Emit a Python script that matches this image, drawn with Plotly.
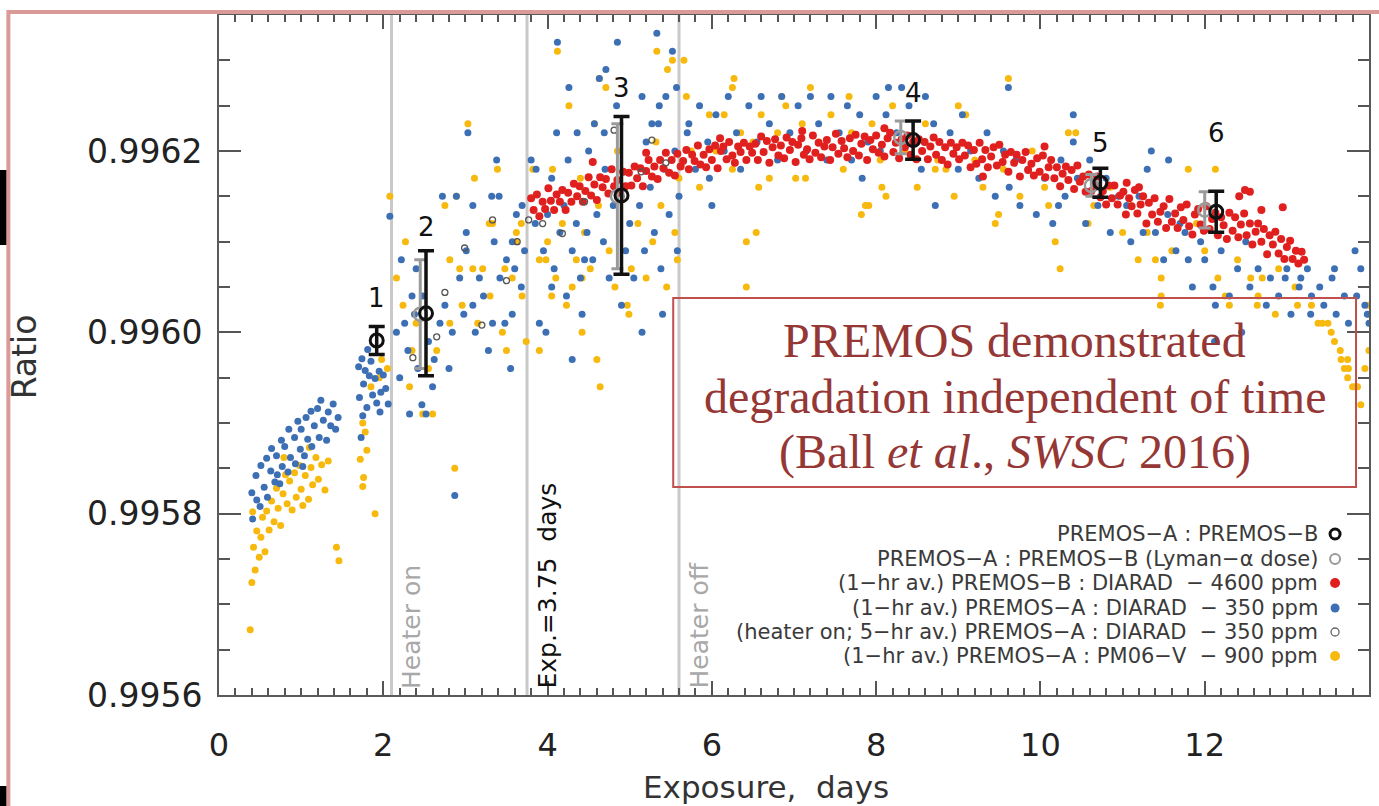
import plotly.graph_objects as go

# ---------------- data ----------------
blue_pts = [
    (0.40,0.995823),(0.41,0.995794),(0.45,0.995842),(0.46,0.995815),(0.50,0.995808),(0.51,0.995853),(0.55,0.995829),
    (0.58,0.995861),(0.59,0.995818),(0.63,0.995847),(0.64,0.995872),(0.68,0.995835),(0.70,0.995864),(0.71,0.995843),
    (0.76,0.995881),(0.77,0.995852),(0.80,0.995874),(0.84,0.995846),(0.85,0.995893),(0.87,0.995862),(0.92,0.995884),
    (0.93,0.995855),(0.96,0.995902),(0.99,0.995871),(1.00,0.995893),(1.04,0.995864),(1.06,0.995906),(1.08,0.995882),
    (1.12,0.995913),(1.13,0.995874),(1.16,0.995897),(1.20,0.995916),(1.22,0.995884),(1.24,0.995925),(1.27,0.995903),
    (1.31,0.995881),(1.33,0.995912),(1.36,0.995897),(1.39,0.995921),(1.42,0.995893),(1.45,0.995906),(0.74,0.995833),
    (1.02,0.995852),
    (1.70,0.995962),(1.71,0.995928),(1.74,0.995971),(1.76,0.995943),(1.78,0.995958),(1.80,0.995917),(1.83,0.995952),
    (1.85,0.995968),(1.87,0.995931),(1.90,0.995949),(1.92,0.995922),(1.95,0.995957),(1.97,0.995934),(2.00,0.995953),
    (2.03,0.995938),(2.06,0.995921),(1.75,0.995908),(1.96,0.995912),(1.73,0.995884),(2.08,0.996128),(1.81,0.995981),
    (2.22,0.99608),(2.35,0.99604),(2.26,0.99601),(2.38,0.99602),(2.48,0.99604),(2.47,0.99592),(2.32,0.99591),(2.60,0.99594),
    (2.69,0.99601),(2.84,0.99600),(2.93,0.99606),(3.01,0.99609),(3.17,0.99606),(3.09,0.99603),(3.33,0.99601),(3.48,0.99601),
    (3.57,0.99602),(3.68,0.99605),(3.50,0.99608),(3.57,0.99610),(3.69,0.99614),(3.90,0.99601),(2.87,0.99582),(2.72,0.99615),
    (2.89,0.99615),(3.09,0.99614),(3.01,0.99611),(3.35,0.99610),(3.03,0.99622),(3.38,0.99619),(3.41,0.99615),(3.32,0.99615),
    (3.62,0.99613),(3.80,0.99619),(3.86,0.99618),(2.30,0.99598),(2.42,0.99596),(2.55,0.99599),(2.62,0.99597),(2.75,0.99603),
    (2.80,0.99596),(2.98,0.99602),(3.12,0.99600),(3.22,0.99604),(3.28,0.99598),(3.42,0.99606),(3.60,0.99607),(3.72,0.99609),
    (2.20,0.99595),(2.52,0.99591),(3.55,0.99596),(2.16,0.99600),(2.40,0.99607),
    (4.12,0.99632),(4.26,0.99627),(4.36,0.99622),(4.57,0.99623),(4.63,0.99628),(4.71,0.99629),(4.85,0.99632),(4.84,0.99625),
    (5.33,0.99633),(5.52,0.99631),(5.57,0.99627),(5.72,0.99623),(4.11,0.99622),(4.05,0.99605),(4.23,0.99604),(4.45,0.99608),
    (4.42,0.99602),(5.58,0.99609),(5.15,0.99626),(5.27,0.99623),(5.36,0.99625),(5.44,0.99626),(4.69,0.99622),
    (3.85,0.99612),(3.95,0.99609),(4.00,0.99613),(4.08,0.99607),(4.15,0.99611),(4.20,0.99614),(4.30,0.99609),(4.35,0.99612),
    (4.40,0.99606),(4.48,0.99611),(4.55,0.99608),(4.60,0.99613),(4.68,0.99610),(4.75,0.99606),(4.80,0.99614),(4.95,0.99609),
    (5.00,0.99612),(5.05,0.99606),(5.12,0.99614),(5.18,0.99609),(5.25,0.99616),(5.30,0.99611),(5.38,0.99607),(5.42,0.99618),
    (5.48,0.99613),(5.55,0.99620),(5.60,0.99615),(4.05,0.99617),(4.25,0.99619),(4.50,0.99620),(4.70,0.99618),(5.20,0.99621),
    (5.35,0.99623),(4.90,0.99603),(5.15,0.99600),(5.40,0.99602),(3.98,0.99600),(4.30,0.99597),
    (5.70,0.99622),(5.80,0.99618),(5.85,0.99625),(5.95,0.99621),(5.97,0.99617),(6.00,0.99614),(6.05,0.99624),(6.15,0.99620),
    (6.20,0.99626),(6.30,0.99622),(6.35,0.99618),(6.45,0.99625),(6.55,0.99621),(6.60,0.99626),(6.70,0.99623),(6.80,0.99619),
    (6.85,0.99626),(6.95,0.99622),(7.05,0.99625),(7.15,0.99620),(7.20,0.99626),(7.30,0.99623),(7.40,0.99619),(7.45,0.99626),
    (7.55,0.99622),(7.65,0.99625),(7.70,0.99619),(7.80,0.99624),(7.83,0.99617),(7.90,0.99621),(8.00,0.99626),(8.05,0.99620),
    (8.12,0.99624),(8.15,0.99627),(8.25,0.99622),(8.31,0.99627),(8.40,0.99625),(8.50,0.99621),(8.55,0.99618),(8.60,0.99626),
    (8.70,0.99623),(8.80,0.99619),(8.90,0.99622),(9.00,0.99618),(8.72,0.99614),
    (9.05,0.99624),(9.15,0.99620),(9.25,0.99617),(9.35,0.99622),(9.45,0.99615),(9.55,0.99620),(9.61,0.99627),(9.62,0.99616),
    (9.70,0.99619),(9.75,0.99614),(9.85,0.99618),(9.95,0.99613),(10.05,0.99617),(10.15,0.99612),(10.22,0.99614),(10.25,0.99619),
    (10.30,0.99615),(10.40,0.99621),(10.45,0.99617),(10.55,0.99612),(10.60,0.99619),(10.70,0.99614),(10.80,0.99617),(10.85,0.99611),
    (10.95,0.99615),(10.40,0.99624),
    (11.05,0.99614),(11.10,0.99610),(11.20,0.99615),(11.25,0.99611),(11.30,0.99618),(11.35,0.99620),(11.40,0.99611),(11.50,0.99608),
    (11.55,0.99613),(11.56,0.99619),(11.65,0.99609),(11.70,0.99612),(11.76,0.99611),(11.80,0.99608),(11.85,0.99605),(11.95,0.99610),
    (12.00,0.99608),(12.10,0.99605),(12.13,0.99603),(12.20,0.99609),(12.30,0.99604),(12.40,0.99607),(12.50,0.99610),(12.55,0.99605),
    (12.65,0.99607),(12.75,0.99603),(12.80,0.99606),(12.90,0.99604),(12.98,0.99606),(13.00,0.99607),(13.05,0.99602),(13.15,0.99605),
    (13.17,0.99606),(13.25,0.99607),(13.29,0.99602),(13.30,0.99604),(13.40,0.99605),(13.45,0.99603),(13.55,0.99606),(13.58,0.99607),
    (13.60,0.99602),(13.70,0.99604),(13.75,0.99601),(13.83,0.99609),(13.85,0.99604),(13.90,0.99607),(13.95,0.99603),(14.00,0.99601),
    (13.98,0.99602),(12.45,0.99600),(12.12,0.99599),
]

yellow_pts = [
    (0.38,0.995672),(0.40,0.995724),(0.42,0.995763),(0.44,0.995738),(0.46,0.995781),(0.49,0.995752),(0.51,0.995774),
    (0.53,0.995796),(0.56,0.995758),(0.58,0.995803),(0.61,0.995782),(0.64,0.995814),(0.67,0.995791),(0.70,0.995828),
    (0.72,0.995806),(0.75,0.995787),(0.78,0.995822),(0.81,0.995843),(0.83,0.995811),(0.86,0.995836),(0.89,0.995804),
    (0.92,0.995845),(0.94,0.995818),(0.98,0.995853),(1.00,0.995827),(1.02,0.995809),(1.05,0.995842),(1.09,0.995816),
    (1.12,0.995851),(1.14,0.995832),(1.18,0.995862),(1.21,0.995838),(1.25,0.995854),(1.29,0.995826),(1.33,0.995858),
    (1.43,0.995763),(1.46,0.995748),(0.41,0.995802),(0.79,0.995862),(1.10,0.995873),
    (1.72,0.99586),(1.75,0.99590),(1.78,0.99589),(1.80,0.99587),(1.76,0.99584),(1.75,0.99583),(1.90,0.99580),(1.85,0.99594),
    (1.95,0.99595),(2.05,0.99596),(2.08,0.99615),(1.98,0.99597),
    (2.16,0.99606),(2.24,0.99603),(2.35,0.99598),(2.32,0.99594),(2.48,0.99591),(2.60,0.99591),(2.65,0.99598),(2.81,0.99601),
    (2.81,0.99608),(2.93,0.99607),(2.96,0.99603),(3.09,0.99607),(3.21,0.99607),(3.45,0.99600),(3.50,0.99598),(3.57,0.99606),
    (3.48,0.99607),(3.62,0.99610),(3.69,0.99604),(3.74,0.99599),(3.90,0.99598),(2.75,0.99614),(3.29,0.99612),(2.87,0.99585),
    (3.03,0.99623),(3.39,0.99618),(3.11,0.99617),(2.89,0.99615),(3.33,0.99612),(3.68,0.99612),(3.62,0.99611),(3.82,0.99618),
    (2.27,0.99610),(2.40,0.99601),(2.55,0.99596),(3.15,0.99601),(3.30,0.99604),
    (4.06,0.99618),(4.12,0.99631),(4.26,0.99625),(4.57,0.99623),(4.63,0.99628),(4.71,0.99627),(5.33,0.99631),(5.52,0.99630),
    (5.66,0.99630),(5.46,0.99629),(5.69,0.99626),(4.05,0.99604),(4.23,0.99603),(4.35,0.99608),(3.90,0.99608),(3.98,0.99608),
    (4.42,0.99600),(4.97,0.99603),(4.99,0.99602),(5.58,0.99608),(4.42,0.99606),
    (4.00,0.99610),(4.10,0.99606),(4.18,0.99612),(4.30,0.99605),(4.45,0.99611),(4.52,0.99607),(4.62,0.99614),(4.75,0.99609),
    (4.82,0.99605),(5.02,0.99607),(5.10,0.99612),(5.20,0.99606),(5.28,0.99610),(5.38,0.99614),(5.45,0.99605),(5.55,0.99611),
    (5.60,0.99617),(4.40,0.99617),(4.85,0.99620),(5.32,0.99621),(4.60,0.99597),(4.64,0.99594),
    (5.75,0.99620),(5.85,0.99616),(5.97,0.99624),(6.05,0.99620),(6.15,0.99624),(6.25,0.99627),(6.27,0.99628),(6.25,0.99618),
    (6.35,0.99622),(6.42,0.99610),(6.42,0.99605),(6.50,0.99621),(6.54,0.99611),(6.57,0.99616),(6.60,0.99624),(6.70,0.99617),
    (6.80,0.99622),(6.85,0.99626),(6.90,0.99625),(7.02,0.99617),(7.10,0.99623),(7.14,0.99617),(7.20,0.99627),(7.30,0.99621),
    (7.45,0.99624),(7.60,0.99618),(7.67,0.99626),(7.70,0.99622),(7.82,0.99613),(7.87,0.99614),(7.91,0.99614),(7.95,0.99623),
    (8.05,0.99619),(8.07,0.99616),(8.12,0.99615),(8.20,0.99625),(8.35,0.99620),(8.50,0.99616),(8.60,0.99623),(8.72,0.99618),
    (8.75,0.99619),(8.85,0.99618),(8.95,0.99615),
    (9.00,0.99625),(9.09,0.99624),(9.20,0.99619),(9.30,0.99616),(9.45,0.99612),(9.49,0.99613),(9.55,0.99618),(9.61,0.99628),
    (9.75,0.99615),(9.90,0.99620),(10.05,0.99616),(10.10,0.99614),(10.18,0.99610),(10.24,0.99607),(10.34,0.99622),(10.43,0.99622),
    (10.50,0.99617),(10.58,0.99612),(10.65,0.99614),(10.85,0.99616),(11.00,0.99611),
    (11.10,0.99614),(11.19,0.99608),(11.30,0.99611),(11.40,0.99608),(11.47,0.99606),(11.47,0.99604),(11.46,0.99603),(11.60,0.99609),
    (11.80,0.99618),(11.90,0.99612),(12.00,0.99609),(12.13,0.99618),(12.16,0.99606),(12.25,0.99604),(12.30,0.99603),(12.40,0.99608),
    (12.56,0.99606),(12.64,0.99603),(12.65,0.99604),(12.70,0.99606),(12.86,0.99602),(12.90,0.99607),(13.10,0.99605),(13.13,0.99603),
    (13.30,0.99603),(13.38,0.99601),(13.43,0.99601),(13.50,0.99601),(13.54,0.99600),(13.58,0.99599),(13.65,0.99598),(13.66,0.99597),
    (13.70,0.99596),(13.74,0.99597),(13.74,0.99595),(13.75,0.99596),(13.80,0.99594),(13.83,0.99594),(13.86,0.99594),(13.90,0.99592),
    (13.95,0.99596),(13.99,0.99603),(14.00,0.99598),
]

red_x = [
    3.80,3.83,3.87,3.90,3.94,3.97,4.01,4.04,4.08,4.11,4.15,4.18,4.22,4.25,4.29,4.32,4.36,4.39,4.43,4.46,
    4.50,4.53,4.57,4.60,4.64,4.67,4.71,4.74,4.78,4.81,4.85,4.88,4.92,4.95,4.99,
    5.02,5.06,5.09,5.13,5.16,5.20,5.23,5.27,5.30,5.34,5.37,5.41,5.44,5.48,5.51,5.55,5.58,5.62,5.65,5.69,
    5.72,5.76,5.79,5.83,5.86,5.90,5.93,5.97,6.00,6.04,6.07,6.11,6.14,6.18,6.21,6.25,6.28,6.32,6.35,6.39,
    6.42,6.46,6.49,
    6.53,6.56,6.60,6.63,6.67,6.70,6.74,6.77,6.81,6.84,6.88,6.91,6.95,6.98,7.02,7.05,7.09,7.12,7.16,7.19,
    7.23,7.26,7.30,7.33,7.37,7.40,7.44,7.47,7.51,7.54,7.58,7.61,7.65,7.68,7.72,7.75,7.79,7.82,7.86,7.89,
    7.93,7.96,8.00,8.03,8.07,8.10,8.14,8.17,8.21,8.24,8.28,8.31,8.35,8.38,8.42,8.45,8.49,8.52,8.56,8.59,
    8.63,8.66,8.70,8.73,8.77,8.80,8.84,8.87,8.91,8.94,8.98,
    9.01,9.05,9.08,9.12,9.15,9.19,9.22,9.26,9.29,9.33,9.36,9.40,9.43,9.47,9.50,9.54,9.57,9.61,9.64,9.68,
    9.71,9.75,9.78,9.82,9.85,9.89,9.92,9.96,9.99,10.03,10.06,10.10,10.13,10.17,10.20,10.24,10.27,10.31,10.34,10.38,
    10.41,10.45,10.48,10.52,10.55,10.59,10.62,10.66,10.69,10.73,10.76,10.80,10.83,10.87,10.90,10.94,10.97,
    11.01,11.04,11.08,11.11,11.15,11.18,11.22,11.25,11.29,11.32,11.36,11.39,11.43,11.46,11.50,11.53,11.57,11.60,11.64,11.67,
    11.71,11.74,11.78,11.81,11.85,11.88,11.92,11.95,11.99,12.02,12.06,12.09,12.13,12.16,12.20,12.23,12.27,12.30,12.34,12.37,
    12.41,12.44,12.48,12.51,12.55,12.58,12.62,12.65,12.69,12.72,12.76,12.79,12.83,12.86,12.90,12.93,12.97,13.00,13.04,13.07,
    13.11,13.14,13.18,13.21,
    12.49,12.55,12.42,11.05,11.20,9.30,10.05,5.20,4.55,8.10,7.10,6.10,12.95,12.69,
]
red_y = [
    0.996148,0.996135,0.996152,0.996128,0.996144,0.996136,0.996159,0.996145,0.996135,0.996152,
    0.996144,0.996157,0.996135,0.996154,0.996144,0.996164,0.996150,0.996161,0.996144,0.996156,
    0.996171,0.996151,0.996163,0.996146,0.996171,0.996160,0.996169,0.996153,0.996180,0.996161,
    0.996168,0.996154,0.996177,0.996161,0.996176,
    0.996162,0.996183,0.996170,0.996181,0.996161,0.996178,0.996190,0.996172,0.996183,0.996169,
    0.996190,0.996181,0.996198,0.996176,0.996190,0.996173,0.996197,0.996183,0.996189,0.996201,
    0.996180,0.996196,0.996189,0.996206,0.996185,0.996196,0.996182,0.996202,0.996190,0.996206,
    0.996181,0.996200,0.996205,0.996191,0.996210,0.996195,0.996187,0.996205,0.996199,0.996209,
    0.996190,0.996205,0.996198,
    0.996208,0.996190,0.996216,0.996199,0.996211,0.996187,0.996204,0.996213,0.996195,0.996206,
    0.996192,0.996215,0.996201,0.996210,0.996188,0.996207,0.996214,0.996196,0.996202,0.996191,
    0.996217,0.996198,0.996209,0.996193,0.996205,0.996212,0.996190,0.996204,0.996219,0.996197,
    0.996211,0.996203,0.996193,0.996214,0.996200,0.996218,0.996195,0.996208,0.996216,0.996190,
    0.996212,0.996202,0.996217,0.996198,0.996207,0.996194,0.996214,0.996220,0.996199,0.996209,
    0.996192,0.996213,0.996204,0.996217,0.996196,0.996210,0.996191,0.996213,0.996200,0.996210,
    0.996191,0.996205,0.996215,0.996196,0.996210,0.996190,0.996204,0.996185,0.996209,0.996197,
    0.996204,
    0.996191,0.996209,0.996195,0.996206,0.996182,0.996201,0.996186,0.996209,0.996191,0.996201,
    0.996182,0.996194,0.996204,0.996184,0.996207,0.996188,0.996196,0.996177,0.996199,0.996187,
    0.996196,0.996172,0.996190,0.996199,0.996179,0.996186,0.996173,0.996192,0.996177,0.996195,
    0.996171,0.996182,0.996190,0.996170,0.996182,0.996161,0.996175,0.996183,0.996168,0.996179,
    0.996158,0.996184,0.996166,0.996172,0.996155,0.996174,0.996156,0.996163,0.996172,0.996149,
    0.996156,0.996141,0.996162,0.996148,0.996162,0.996141,0.996151,
    0.996155,0.996130,0.996148,0.996139,0.996157,0.996131,0.996141,0.996150,0.996120,0.996143,
    0.996130,0.996148,0.996122,0.996133,0.996139,0.996115,0.996147,0.996122,0.996131,0.996115,
    0.996138,0.996124,0.996141,0.996117,0.996108,0.996130,0.996136,0.996119,0.996112,0.996139,
    0.996114,0.996125,0.996132,0.996107,0.996127,0.996118,0.996103,0.996132,0.996112,0.996127,
    0.996105,0.996119,0.996131,0.996107,0.996120,0.996097,0.996111,0.996120,0.996100,0.996114,
    0.996086,0.996107,0.996097,0.996111,0.996087,0.996103,0.996081,0.996094,0.996101,0.996081,
    0.996090,0.996076,0.996089,0.996080,
    0.996157,0.996155,0.996150,0.996165,0.996160,0.996172,0.996205,0.996198,0.996188,0.996225,
    0.996222,0.996214,0.996138,0.996135,
]

heater_x = [3.33, 3.77, 3.63, 3.50, 3.20, 2.99, 2.75, 3.94, 4.18, 4.45, 4.81, 5.27, 5.44, 5.14, 2.65, 2.36]
heater_y = [0.996124, 0.996124, 0.996100, 0.996057, 0.996008, 0.996093, 0.996044, 0.996120,
            0.996109, 0.996144, 0.996223, 0.996212, 0.996187, 0.996177, 0.995995, 0.995972]

lyman_x = [2.45, 4.85, 8.30, 10.62, 12.00]
lyman_y = [0.99602, 0.99615, 0.996215, 0.996162, 0.996135]
lyman_err = [0.00006, 0.00008, 0.000018, 0.000012, 0.00002]

ab_x = [1.92, 2.52, 4.90, 8.45, 10.73, 12.14]
ab_y = [0.995991, 0.996021, 0.996151, 0.996212, 0.996165, 0.996133]
ab_err = [0.0000155, 0.000069, 0.000087, 0.000021, 0.000016, 0.0000225]
ab_labels = ["1", "2", "3", "4", "5", "6"]
ab_label_y = [0.996038, 0.996116, 0.996270, 0.996264, 0.996209, 0.996220]

event_x = [2.1, 3.75, 5.6]
event_text = ["Heater on", "Exp.=3.75  days", "Heater off"]
event_color = ["#a8a8a8", "#111111", "#a8a8a8"]

legend_text = [
    "PREMOS\u2212A : PREMOS\u2212B",
    "PREMOS\u2212A : PREMOS\u2212B (Lyman\u2212\u03b1 dose)",
    "(1\u2212hr av.) PREMOS\u2212B : DIARAD  \u2212 4600 ppm",
    "(1\u2212hr av.) PREMOS\u2212A : DIARAD  \u2212 350 ppm",
    "(heater on; 5\u2212hr av.) PREMOS\u2212A : DIARAD  \u2212 350 ppm",
    "(1\u2212hr av.) PREMOS\u2212A : PM06\u2212V  \u2212 900 ppm",
]

box_lines = ["PREMOS demonstrated", "degradation independent of time",
             "(Ball <i>et al</i>., <i>SWSC</i> 2016)"]

x_ticks = [0, 2, 4, 6, 8, 10, 12, 14]
y_ticks = [0.9956, 0.9958, 0.9960, 0.9962]

# ---------------- styles / layout ----------------
W, H = 1379, 806
L, T, PW, PH = 219, 15, 1152, 680
BLUE, YELLOW, RED = "#3d6fb4", "#f8b90f", "#e0201f"


def pxx(p):
    return (p - L) / PW


def pyy(p):
    return (T + PH - p) / PH


fig = go.Figure()
for xs, ys, col, sz in [([p[0] for p in yellow_pts], [p[1] for p in yellow_pts], YELLOW, 7),
                        ([p[0] for p in blue_pts], [p[1] for p in blue_pts], BLUE, 7),
                        (red_x, red_y, RED, 8)]:
    fig.add_trace(go.Scatter(x=xs, y=ys, mode="markers",
                             marker=dict(color=col, size=sz, line=dict(width=0)),
                             hoverinfo="skip"))

fig.add_trace(go.Scatter(x=heater_x, y=heater_y, mode="markers",
                         marker=dict(symbol="circle-open", color="#555555", size=6, line=dict(width=1.3))))
fig.add_trace(go.Scatter(x=lyman_x, y=lyman_y, mode="markers",
                         marker=dict(symbol="circle-open", color="#9a9a9a", size=13, line=dict(width=2.5)),
                         error_y=dict(type="data", array=lyman_err, color="#9a9a9a", thickness=3, width=6)))
fig.add_trace(go.Scatter(x=ab_x, y=ab_y, mode="markers",
                         marker=dict(symbol="circle-open", color="#111111", size=13, line=dict(width=3)),
                         error_y=dict(type="data", array=ab_err, color="#111111", thickness=3.5, width=8)))

shapes = []
for ex in event_x:
    shapes.append(dict(type="line", xref="x", yref="paper", x0=ex, x1=ex, y0=0, y1=1,
                       line=dict(color="#c9c9c9", width=3), layer="below"))

# annotation box
shapes.append(dict(type="rect", xref="paper", yref="paper", x0=pxx(674), x1=pxx(1358),
                   y0=pyy(487), y1=pyy(298), line=dict(color="#c0504d", width=2), fillcolor="rgba(0,0,0,0)"))

# outer pink frame and left-edge fragments
shapes.append(dict(type="rect", xref="paper", yref="paper", x0=pxx(8), x1=pxx(1400),
                   y0=pyy(830), y1=pyy(12), line=dict(color="#d99a98", width=4)))
shapes.append(dict(type="rect", xref="paper", yref="paper", x0=pxx(-2), x1=pxx(6),
                   y0=pyy(245), y1=pyy(170), line=dict(width=0), fillcolor="#000000"))
shapes.append(dict(type="rect", xref="paper", yref="paper", x0=pxx(-2), x1=pxx(6),
                   y0=pyy(810), y1=pyy(786), line=dict(width=0), fillcolor="#000000"))

annotations = []
for ex, et, ec in zip(event_x, event_text, event_color):
    annotations.append(dict(x=ex, y=0, xref="x", yref="paper", text=et, showarrow=False,
                            textangle=-90, xanchor="left", yanchor="bottom", xshift=3, yshift=4,
                            font=dict(family="DejaVu Sans", size=25, color=ec)))

for lx, ly, lt in zip(ab_x, ab_label_y, ab_labels):
    annotations.append(dict(x=lx, y=ly, xref="x", yref="y", text=lt, showarrow=False,
                            font=dict(family="DejaVu Sans", size=26, color="#111111")))

legend_rows = [534, 559, 583, 608, 632, 656]
for t_, ry in zip(legend_text, legend_rows):
    annotations.append(dict(x=pxx(1322), y=pyy(ry), xref="paper", yref="paper", text=t_,
                            showarrow=False, xanchor="right", yanchor="middle",
                            font=dict(family="DejaVu Sans", size=21, color="#3a3a3a")))

leg_styles = [
    dict(line=dict(color="#111111", width=3), fillcolor="rgba(0,0,0,0)", r=5),
    dict(line=dict(color="#9a9a9a", width=2), fillcolor="rgba(0,0,0,0)", r=5),
    dict(line=dict(width=0), fillcolor=RED, r=5),
    dict(line=dict(width=0), fillcolor=BLUE, r=4.5),
    dict(line=dict(color="#666666", width=1.3), fillcolor="rgba(0,0,0,0)", r=4),
    dict(line=dict(width=0), fillcolor=YELLOW, r=5),
]
for st, ry in zip(leg_styles, legend_rows):
    r = st["r"]
    shapes.append(dict(type="circle", xref="paper", yref="paper", xsizemode="pixel", ysizemode="pixel",
                       xanchor=pxx(1337), yanchor=pyy(ry), x0=-r, x1=r, y0=-r, y1=r,
                       line=st["line"], fillcolor=st["fillcolor"]))

box_rows = [340, 396, 452]
for bl, by in zip(box_lines, box_rows):
    annotations.append(dict(x=pxx(1016), y=pyy(by), xref="paper", yref="paper", text=bl,
                            showarrow=False, xanchor="center", yanchor="middle",
                            font=dict(family="Liberation Serif", size=48, color="#953735")))

annotations.append(dict(x=pxx(767), y=pyy(806), xref="paper", yref="paper", text="Exposure,  days",
                        showarrow=False, xanchor="center", yanchor="bottom", borderpad=0,
                        font=dict(family="DejaVu Sans", size=31, color="#333333")))
annotations.append(dict(x=pxx(24), y=pyy(357), xref="paper", yref="paper", text="Ratio",
                        showarrow=False, xanchor="center", yanchor="middle", textangle=-90,
                        font=dict(family="DejaVu Sans", size=33, color="#333333")))

axis_common = dict(showline=True, linecolor="#5a5a5a", linewidth=2, mirror="allticks",
                   ticks="inside", tickcolor="#555555", showgrid=False, zeroline=False)

fig.update_layout(
    width=W, height=H, margin=dict(l=L, r=W - L - PW, t=T, b=H - T - PH),
    plot_bgcolor="white", paper_bgcolor="white", showlegend=False,
    shapes=shapes, annotations=annotations,
    xaxis=dict(range=[0, 14], tickmode="array", tickvals=x_ticks, ticktext=[str(v) for v in x_ticks],
               ticklen=14, tickwidth=2, ticklabelstandoff=21,
               tickfont=dict(family="DejaVu Sans", size=32, color="#222222"),
               minor=dict(tickmode="linear", tick0=0, dtick=0.2, ticklen=7, tickwidth=1.5,
                          ticks="inside", tickcolor="#555555"),
               **axis_common),
    yaxis=dict(range=[0.9956, 0.99635], tickmode="array", tickvals=y_ticks,
               ticktext=["%.4f" % v for v in y_ticks],
               ticklen=22, tickwidth=2, ticklabelstandoff=8,
               tickfont=dict(family="DejaVu Sans", size=33, color="#222222"),
               minor=dict(tickmode="linear", tick0=0.9956, dtick=0.00005, ticklen=11, tickwidth=1.5,
                          ticks="inside", tickcolor="#555555"),
               **axis_common),
)

fig.write_html("out.html")
